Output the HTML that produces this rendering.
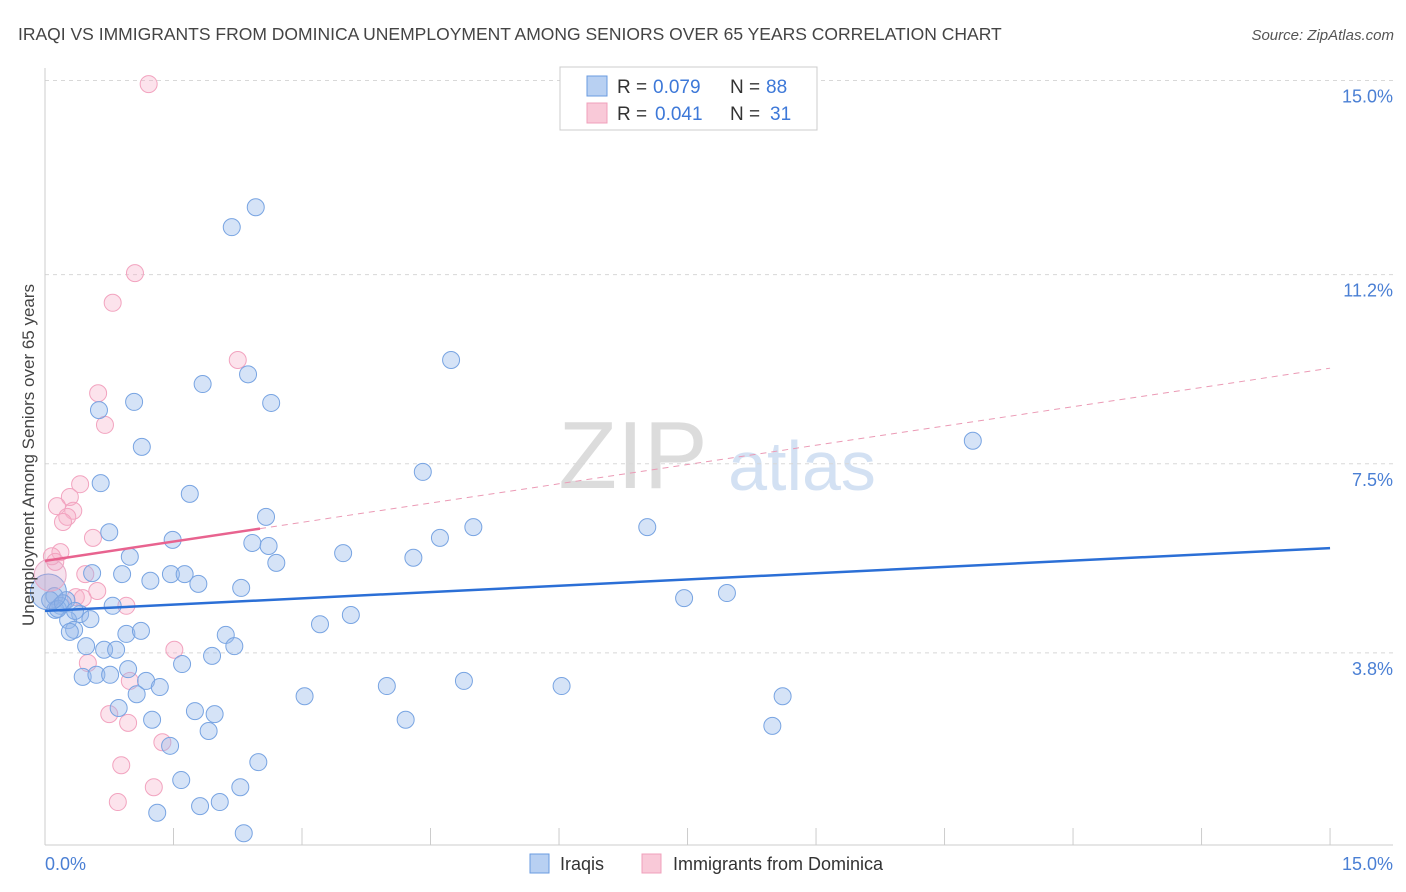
<!DOCTYPE html>
<html><head><meta charset="utf-8"><style>
body{margin:0;background:#fff;font-family:"Liberation Sans",sans-serif;}
#wrap{position:relative;width:1406px;height:892px;overflow:hidden}
svg text{font-family:"Liberation Sans",sans-serif}
</style></head><body>
<div id="wrap">
<svg id="chart" width="1406" height="892">
<text x="18" y="40" font-size="17.5" fill="#444">IRAQI VS IMMIGRANTS FROM DOMINICA UNEMPLOYMENT AMONG SENIORS OVER 65 YEARS CORRELATION CHART</text>
<text x="1394" y="40" font-size="15" fill="#555" font-style="italic" text-anchor="end">Source: ZipAtlas.com</text>
<text x="633" y="488" font-size="96" fill="#dcdcdc" font-family="Liberation Serif" text-anchor="middle">ZIP</text>
<text x="802" y="490" font-size="70" fill="#d3e1f3" text-anchor="middle">atlas</text>
<g id="grid"></g><g id="axes"></g><g id="marks"></g><g id="trend"></g>
<text transform="translate(34,455) rotate(-90)" font-size="17" fill="#444" text-anchor="middle">Unemployment Among Seniors over 65 years</text>
<text x="45" y="870" font-size="18" fill="#4a7fd4">0.0%</text>
<text x="1393" y="870" font-size="18" fill="#4a7fd4" text-anchor="end">15.0%</text>
<g>
<rect x="560" y="67" width="257" height="63" fill="#fff" stroke="#ccc"/>
<rect x="587" y="76" width="20" height="20" fill="#b8d0f2" stroke="#6a9be0"/>
<text y="93" font-size="19" fill="#333"><tspan x="617">R =</tspan><tspan x="653" fill="#3d78d8">0.079</tspan><tspan x="730">N =</tspan><tspan x="766" fill="#3d78d8">88</tspan></text>
<rect x="587" y="103" width="20" height="20" fill="#f9c9d8" stroke="#f0a0bb"/>
<text y="120" font-size="19" fill="#333"><tspan x="617">R =</tspan><tspan x="655" fill="#3d78d8">0.041</tspan><tspan x="730">N =</tspan><tspan x="770" fill="#3d78d8">31</tspan></text>
</g>
<g>
<rect x="530" y="854" width="19" height="19" fill="#b8d0f2" stroke="#6a9be0"/>
<text x="560" y="870" font-size="18" fill="#333">Iraqis</text>
<rect x="642" y="854" width="19" height="19" fill="#f9c9d8" stroke="#f0a0bb"/>
<text x="673" y="870" font-size="18" fill="#333">Immigrants from Dominica</text>
</g>
</svg></div>
<script>
const yTicks=[3.8,7.5,11.2,15.0];
const yTickLabels=["3.8%","7.5%","11.2%","15.0%"];
const xTicks=[0,1.5,3,4.5,6,7.5,9,10.5,12,13.5,15];
const iraqiX=[2.46,2.18,4.74,2.37,1.84,1.04,2.64,0.63,1.13,10.83,4.41,0.65,1.69,2.58,5.00,7.03,0.75,1.49,4.61,2.42,2.61,3.48,4.30,0.99,2.70,0.55,0.90,1.47,1.63,1.23,1.79,2.29,7.46,7.96,0.79,0.11,0.25,0.18,0.12,0.41,0.27,0.53,0.34,0.29,3.57,3.21,0.95,1.12,2.11,0.48,2.21,0.69,0.83,1.95,1.60,0.97,0.44,0.60,0.76,1.18,1.34,3.99,4.89,6.03,3.03,1.07,8.61,0.86,1.75,1.98,1.25,4.21,1.91,8.49,1.46,2.49,1.59,2.28,2.04,1.81,1.31,2.32,0.06,0.15,0.21,0.35];
const iraqiY=[12.52,12.13,9.53,9.25,9.06,8.71,8.69,8.55,7.83,7.95,7.34,7.12,6.91,6.46,6.26,6.26,6.16,6.01,6.05,5.95,5.89,5.75,5.66,5.68,5.56,5.36,5.34,5.34,5.34,5.21,5.15,5.07,4.87,4.97,4.72,4.91,4.83,4.72,4.64,4.56,4.44,4.46,4.25,4.21,4.54,4.36,4.17,4.23,4.15,3.93,3.93,3.86,3.86,3.74,3.58,3.48,3.33,3.37,3.37,3.25,3.13,3.15,3.25,3.15,2.95,2.99,2.95,2.72,2.66,2.60,2.49,2.49,2.27,2.37,1.98,1.66,1.31,1.17,0.88,0.80,0.67,0.27,4.83,4.66,4.77,4.62];
const iraqiBigX=[0.04];
const iraqiBigY=[4.99];
const domX=[1.21,1.05,0.79,2.25,0.62,0.70,0.41,0.29,0.14,0.33,0.26,0.21,0.56,0.18,0.08,0.12,0.47,0.36,0.44,0.61,0.95,0.50,1.51,0.99,0.75,0.97,1.37,0.89,1.27,0.85];
const domY=[14.93,11.23,10.65,9.53,8.88,8.26,7.10,6.85,6.67,6.58,6.46,6.36,6.05,5.77,5.69,5.58,5.34,4.89,4.87,5.01,4.72,3.60,3.86,3.25,2.60,2.43,2.05,1.60,1.17,0.88];
const domBigX=[0.06];
const domBigY=[5.32];
const iraqiTrend=[4.62,5.85];
const domTrend=[5.60,9.37];
const domSolidEnd=2.51;

const NS="http://www.w3.org/2000/svg";
const sx=v=>45+v*85.67, sy=v=>847-v*51.1;
function mk(tag,attrs,parent){const e=document.createElementNS(NS,tag);for(const k in attrs)e.setAttribute(k,attrs[k]);document.getElementById(parent).appendChild(e);return e;}
yTicks.forEach((t,i)=>{
 const l=mk('line',{x1:45,x2:1393,y1:sy(t),y2:sy(t),stroke:'#d8d8d8','stroke-dasharray':'4,4'},'grid');
 
 
 const tx=mk('text',{x:1393,y:sy(t)+22,'font-size':18,fill:'#4a7fd4','text-anchor':'end'},'grid');
 tx.textContent=yTickLabels[i];
 
 
});
let a=mk('line',{x1:45,x2:45,y1:68,y2:845,stroke:'#ccc'},'axes');


a=mk('line',{x1:45,x2:1393,y1:845,y2:845,stroke:'#ccc'},'axes');


xTicks.forEach(t=>{
 const l=mk('line',{x1:sx(t),x2:sx(t),y1:828,y2:845,stroke:'#ccc'},'axes');
 
 
});
function dots(X,Y,r,fill,stroke,name){
 X.forEach((x,i)=>{
  const c=mk('circle',{cx:sx(x),cy:sy(Y[i]),r:r,fill:fill,stroke:stroke,'stroke-width':1},'marks');
  
  
 });
}
dots(domX,domY,8.5,'rgba(246,175,200,0.35)','#f2a3bf','dominica-point');
dots(iraqiX,iraqiY,8.5,'rgba(150,185,235,0.4)','#78a4e2','iraqi-point');
dots(iraqiBigX,iraqiBigY,18,'rgba(140,170,225,0.4)','#78a4e2','iraqi-point-large');
dots(domBigX,domBigY,16,'rgba(225,160,195,0.3)','#e8a8c5','dominica-point-large');
let t=mk('line',{x1:sx(0),y1:sy(iraqiTrend[0]),x2:sx(15),y2:sy(iraqiTrend[1]),stroke:'#2b6fd6','stroke-width':2.5},'trend');


const dy=v=>domTrend[0]+(domTrend[1]-domTrend[0])*v/15;
t=mk('line',{x1:sx(0),y1:sy(dy(0)),x2:sx(domSolidEnd),y2:sy(dy(domSolidEnd)),stroke:'#e8638f','stroke-width':2.5},'trend');


t=mk('line',{x1:sx(domSolidEnd),y1:sy(dy(domSolidEnd)),x2:sx(15),y2:sy(dy(15)),stroke:'#eb9ab5','stroke-width':1,'stroke-dasharray':'6,5'},'trend');


</script>
</body></html>
